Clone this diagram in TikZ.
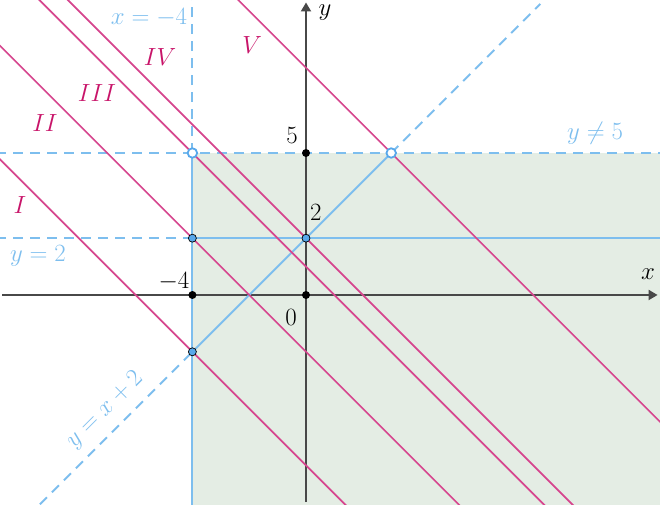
\documentclass[tikz,border=0pt]{standalone}
\usetikzlibrary{arrows.meta}

\definecolor{regiongreen}{RGB}{228,237,228}
\definecolor{lineblue}{RGB}{125,190,238}
\definecolor{dotblue}{RGB}{88,168,235}
\definecolor{linemagenta}{RGB}{214,70,142}
\definecolor{labelmagenta}{RGB}{200,20,105}
\definecolor{axisgray}{RGB}{72,72,72}

\tikzset{
	bluesolid/.style={draw=lineblue, line width=2pt},
	bluedash/.style={bluesolid, dash pattern=on 10pt off 7pt},
	levelline/.style={draw=linemagenta, line width=1.7pt},
	axisline/.style={draw=axisgray, line width=1.9pt, -{Triangle[length=9pt,width=10pt]}},
	opendot/.style={circle, draw=dotblue, fill=white, line width=1.8pt, inner sep=0pt, minimum size=9.5pt},
	bluedot/.style={circle, draw=black, fill=dotblue, line width=0.7pt, inner sep=0pt, minimum size=8pt},
	blackdot/.style={circle, fill=black, inner sep=0pt, minimum size=8pt},
	levellabel/.style={text=labelmagenta},
	bluelabel/.style={text=lineblue}
}

\begin{document}
\begin{tikzpicture}[font=\fontsize{23}{27}\selectfont]

				\useasboundingbox (-10.775,-7.394) rectangle (12.465,10.387);
				\clip (-10.775,-7.394) rectangle (12.465,10.387);

				% points of the plot
				\coordinate (P) at (-4,5);
				\coordinate (Q) at (3,5);
				\coordinate (A) at (-4,2);
				\coordinate (B) at (0,2);
				\coordinate (C) at (-4,-2);
				\coordinate (O) at (0,0);
				\coordinate (M) at (-4,0);
				\coordinate (F) at (0,5);

				% ends at the border
				\coordinate (xtop) at (-4,10.5);
				\coordinate (xbot) at (-4,-7.5);
				\coordinate (fiveL) at (-10.9,5);
				\coordinate (fiveR) at (12.6,5);
				\coordinate (twoL) at (-10.9,2);
				\coordinate (twoR) at (12.6,2);
				\coordinate (diagB) at (-9.37,-7.37);
				\coordinate (diagT) at (8.25,10.25);
				\coordinate (axL) at (-10.7,0);
				\coordinate (axR) at (12.38,0);
				\coordinate (ayB) at (0,-7.29);
				\coordinate (ayT) at (0,10.3);

				% region
				\fill[regiongreen] (xbot) rectangle (fiveR);

				% axes
				\draw[axisline] (axL) -- (axR);
				\draw[axisline] (ayB) -- (ayT);

				% blue lines
				\draw[bluedash] (P) -- (xtop);
				\draw[bluesolid] (xbot) -- (P);
				\draw[bluedash] (fiveL) -- (fiveR);
				\draw[bluedash] (twoL) -- (A);
				\draw[bluesolid] (A) -- (twoR);
				\draw[bluedash] (diagB) -- (C);
				\draw[bluesolid] (C) -- (Q);
				\draw[bluedash] (Q) -- (diagT);

				% level lines x+y=c
				\draw[levelline] (-11,5) -- (1.6,-7.6);
				\draw[levelline] (-11,9) -- (5.6,-7.6);
				\draw[levelline] (-9.6,10.6) -- (8.6,-7.6);
				\draw[levelline] (-8.6,10.6) -- (9.6,-7.6);
				\draw[levelline] (-2.6,10.6) -- (12.6,-4.6);

				% dots
				\node [blackdot] (dotO) at (O) {};
				\node [blackdot] (dotM) at (M) {};
				\node [blackdot] (dotF) at (F) {};
				\node [bluedot] (dotA) at (A) {};
				\node [bluedot] (dotB) at (B) {};
				\node [bluedot] (dotC) at (C) {};
				\node [opendot] (dotP) at (P) {};
				\node [opendot] (dotQ) at (Q) {};

				% labels
				\node [bluelabel] (labx) at (-5.53,9.78) {$x=-4$};
				\node [bluelabel] (laby5) at (10.18,5.70) {$y\neq5$};
				\node [bluelabel] (laby2) at (-9.44,1.37) {$y=2$};
				\node [bluelabel, rotate=45] (labdiag) at (-7.08,-4.05) {$y=x+2$};

				\node [levellabel] (labI) at (-10.07,3.17) {$I$};
				\node [levellabel] (labII) at (-9.19,6.06) {$II$};
				\node [levellabel] (labIII) at (-7.36,7.11) {$III$};
				\node [levellabel] (labIV) at (-5.14,8.38) {$IV$};
				\node [levellabel] (labV) at (-1.90,8.80) {$V$};

				\node (lab5) at (-0.49,5.6) {$5$};
				\node (lab2) at (0.35,2.92) {$2$};
				\node (labm4) at (-4.65,0.46) {$-4$};
				\node (lab0) at (-0.53,-0.81) {$0$};
				\node (labxx) at (12.04,0.74) {$x$};
				\node (labyy) at (0.67,9.93) {$y$};

		\end{tikzpicture}
\end{document}
